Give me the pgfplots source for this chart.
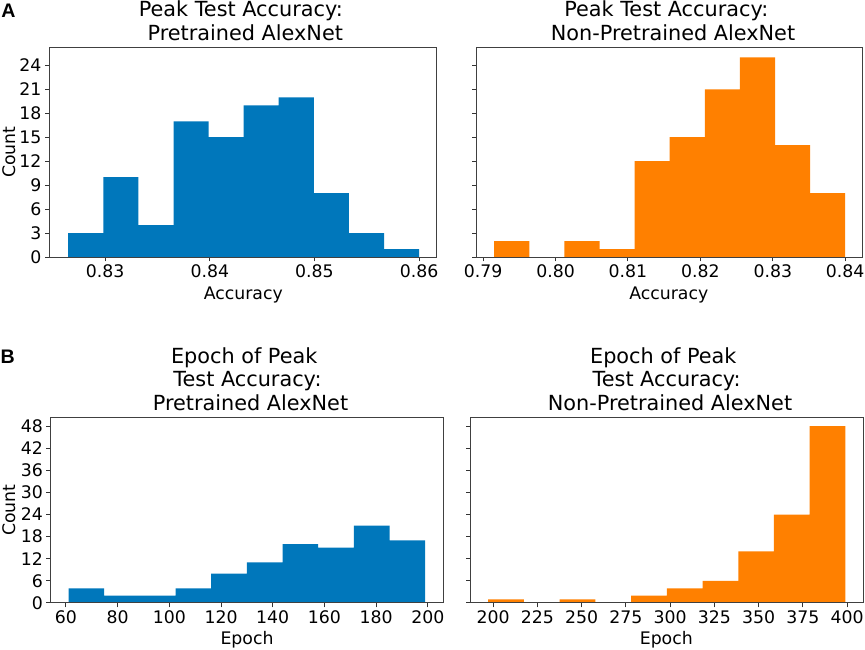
\documentclass[border=0pt]{standalone}
\usepackage{fontspec}
\setmainfont{DejaVu Sans}
\newfontfamily\labfont{Liberation Sans}
\usepackage{pgfplots}
\pgfplotsset{compat=1.18}
\definecolor{mblue}{RGB}{0,119,187}
\definecolor{morange}{RGB}{255,128,0}
\newcommand\tickfont{\fontsize{17.3}{20}\selectfont}
\newcommand\titlefont{\fontsize{20.8}{24}\selectfont}
\pgfplotsset{
  hist/.style={
    scale only axis, anchor=south west, axis on top,
    tick align=outside, tick pos=left,
    major tick length=4.3pt,
    tick style={black!80, line width=1pt},
    axis line style={black!75, line width=1pt},
    scaled ticks=false,
    /pgf/number format/assume math mode=true,
    ticklabel style={font=\tickfont},
    xticklabel style={anchor=base, inner sep=0pt, yshift=-16pt},
    yticklabel style={anchor=east, inner sep=0pt, xshift=-3.4pt},
    ymin=0,
  },
  accfmt/.style={xticklabel style={/pgf/number format/fixed, /pgf/number format/fixed zerofill, /pgf/number format/precision=2}},
}
\begin{document}
\begin{tikzpicture}[x=1pt,y=1pt]
\path[use as bounding box] (0pt,0pt) rectangle (865pt,650pt);

% Top left
\begin{axis}[hist, accfmt, at={(49.4pt,392.8pt)}, width=387.3pt, height=209.9pt,
  xmin=0.82468, xmax=0.86168, ymax=26.25,
  xtick={0.83,0.84,0.85,0.86}, ytick={0,3,6,9,12,15,18,21,24}]
\addplot[ybar interval, fill=mblue, draw=none] coordinates {
(0.82648,3) (0.82983,10) (0.83318,4) (0.83654,17) (0.83989,15) (0.84324,19) (0.84659,20) (0.84994,8) (0.85330,3) (0.85665,1) (0.86000,1)};
\end{axis}

% Top right
\begin{axis}[hist, accfmt, at={(476.7pt,392.8pt)}, width=386.0pt, height=209.9pt,
  xmin=0.78911, xmax=0.84242, ymax=26.25,
  xtick={0.79,0.80,0.81,0.82,0.83,0.84}, ytick={0,3,6,9,12,15,18,21,24}, yticklabels={}]
\addplot[ybar interval, fill=morange, draw=none] coordinates {
(0.79153,2) (0.79638,0) (0.80123,2) (0.80607,1) (0.81092,12) (0.81577,15) (0.82062,21) (0.82546,25) (0.83031,14) (0.83516,8) (0.84000,8)};
\end{axis}

% Bottom left
\begin{axis}[hist, at={(50.7pt,47.0pt)}, width=392.6pt, height=185.7pt,
  xmin=54.1, xmax=206.0, ymax=50.4,
  xtick={60,80,100,120,140,160,180,200}, ytick={0,6,12,18,24,30,36,42,48}]
\addplot[ybar interval, fill=mblue, draw=none] coordinates {
(61,4) (74.8,2) (88.6,2) (102.4,4) (116.2,8) (130,11) (143.8,16) (157.6,15) (171.4,21) (185.2,17) (199,17)};
\end{axis}

% Bottom right
\begin{axis}[hist, at={(470.3pt,47.0pt)}, width=393.0pt, height=185.7pt,
  xmin=187.1, xmax=409.1, ymax=50.4,
  xtick={200,225,250,275,300,325,350,375,400}, ytick={0,6,12,18,24,30,36,42,48}, yticklabels={}]
\addplot[ybar interval, fill=morange, draw=none] coordinates {
(197.2,1) (217.38,0) (237.56,1) (257.74,0) (277.92,2) (298.1,4) (318.28,6) (338.46,14) (358.64,24) (378.82,48) (399.0,48)};
\end{axis}

% Titles
\node[anchor=base, inner sep=0pt, font=\titlefont] at (240.8pt,633.3pt) {Peak Test Accuracy:};
\node[anchor=base, inner sep=0pt, font=\titlefont] at (245.3pt,609.5pt) {Pretrained AlexNet};
\node[anchor=base, inner sep=0pt, font=\titlefont] at (666.3pt,633.3pt) {Peak Test Accuracy:};
\node[anchor=base, inner sep=0pt, font=\titlefont] at (673.0pt,609.5pt) {Non-Pretrained AlexNet};
\node[anchor=base, inner sep=0pt, font=\titlefont] at (244.2pt,286.7pt) {Epoch of Peak};
\node[anchor=base, inner sep=0pt, font=\titlefont] at (247.5pt,263.1pt) {Test Accuracy:};
\node[anchor=base, inner sep=0pt, font=\titlefont] at (250.5pt,239.5pt) {Pretrained AlexNet};
\node[anchor=base, inner sep=0pt, font=\titlefont] at (663.3pt,286.7pt) {Epoch of Peak};
\node[anchor=base, inner sep=0pt, font=\titlefont] at (666.7pt,263.1pt) {Test Accuracy:};
\node[anchor=base, inner sep=0pt, font=\titlefont] at (670.0pt,239.5pt) {Non-Pretrained AlexNet};

% Axis labels
\node[anchor=base, inner sep=0pt, font=\tickfont] at (243.3pt,350.7pt) {Accuracy};
\node[anchor=base, inner sep=0pt, font=\tickfont] at (668.8pt,350.7pt) {Accuracy};
\node[anchor=base, inner sep=0pt, font=\tickfont] at (247.0pt,5.0pt) {Epoch};
\node[anchor=base, inner sep=0pt, font=\tickfont] at (666.3pt,5.0pt) {Epoch};
\node[anchor=base, inner sep=0pt, font=\tickfont, rotate=90] at (15pt,497.8pt) {Count};
\node[anchor=base, inner sep=0pt, font=\tickfont, rotate=90] at (15pt,140.0pt) {Count};

% Panel letters
\node[anchor=base west, inner sep=0pt, font=\labfont\bfseries\fontsize{19.6}{21}\selectfont] at (1.2pt,632.7pt) {A};
\node[anchor=base west, inner sep=0pt, font=\labfont\bfseries\fontsize{19.6}{21}\selectfont] at (0.5pt,286.7pt) {B};
\end{tikzpicture}
\end{document}
